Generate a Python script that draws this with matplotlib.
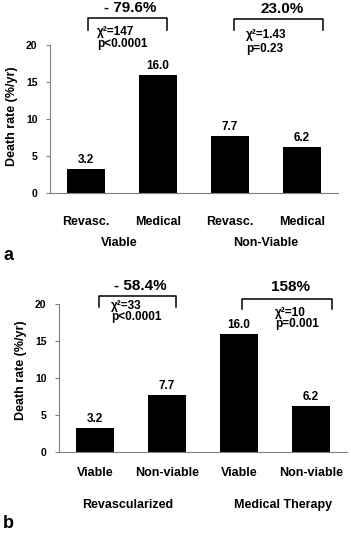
import matplotlib
matplotlib.use("Agg")
import matplotlib.pyplot as plt
from matplotlib.transforms import blended_transform_factory

plt.rcParams["font.family"] = ["Liberation Sans", "DejaVu Sans"]
plt.rcParams["font.weight"] = "bold"

# panel a
a_labels = ["Revasc.", "Medical", "Revasc.", "Medical"]
a_groups = ["Viable", "Non-Viable"]
a_values = [3.2, 16.0, 7.7, 6.2]
a_changes = ["- 79.6%", "23.0%"]
a_stats = [("χ²=147", "p<0.0001"), ("χ²=1.43", "p=0.23")]

# panel b
b_labels = ["Viable", "Non-viable", "Viable", "Non-viable"]
b_groups = ["Revascularized", "Medical Therapy"]
b_values = [3.2, 7.7, 16.0, 6.2]
b_changes = ["- 58.4%", "158%"]
b_stats = [("χ²=33", "p<0.0001"), ("χ²=10", "p=0.001")]

W, H = 351, 533
fig = plt.figure(figsize=(W / 100, H / 100), dpi=100)


def make_axes(left, right, top, bottom):
    return fig.add_axes([left / W, 1 - bottom / H, (right - left) / W, (bottom - top) / H])


def draw_panel(ax, labels, groups, values, changes, stats, layout):
    xs = [i + 0.5 for i in range(len(values))]
    ax.bar(xs, values, width=0.53, color="black")
    ax.set_xlim(0, 4)
    ax.set_ylim(0, 20)
    ax.set_yticks([0, 5, 10, 15, 20])
    for s in ["top", "right"]:
        ax.spines[s].set_visible(False)
    for s in ["left", "bottom"]:
        ax.spines[s].set_color("#808080")
    ax.tick_params(axis="y", length=3, color="#808080", labelsize=7.5, pad=6)
    ax.set_xticks([])
    ax.set_ylabel("Death rate (%/yr)", fontsize=9, fontweight="bold")
    ax.yaxis.set_label_coords(-0.11, layout["ylabel_y"])

    for x, v in zip(xs, values):
        ax.annotate(f"{v:.1f}", (x, v), xytext=(0, 6.5), textcoords="offset points",
                    ha="center", va="center", fontsize=8.5, fontweight="bold")

    tr = blended_transform_factory(ax.transData, ax.transAxes)
    for x, lab in zip(xs, labels):
        ax.text(x, layout["label_y"], lab, transform=tr, ha="center", va="center",
                fontsize=9, fontweight="bold")
    for gx, g in zip(layout["group_x"], groups):
        ax.text(gx, layout["group_y"], g, transform=tr, ha="center", va="center",
                fontsize=9, fontweight="bold")

    for (x0, x1, ytop, ybot), (hx, hy), txt, (sx, sy1, sy2), (c, p) in zip(
            layout["brackets"], layout["heads"], changes, layout["stats"], stats):
        ax.plot([x0, x0, x1, x1], [ybot, ytop, ytop, ybot], color="black", lw=1.1,
                clip_on=False)
        ax.text(hx, hy, txt, ha="center", va="center", fontsize=11,
                fontweight="bold", clip_on=False)
        ax.text(sx, sy1, c, ha="left", va="center", fontsize=8.5, fontweight="bold")
        ax.text(sx, sy2, p, ha="left", va="center", fontsize=8.5, fontweight="bold")


ax_a = make_axes(50, 338, 45, 193)
draw_panel(ax_a, a_labels, a_groups, a_values, a_changes, a_stats, {
    "ylabel_y": 0.52,
    "label_y": -29 / 148, "group_y": -50 / 148, "group_x": [0.96, 3.0],
    "brackets": [(0.53, 1.62, 23.6, 22.0), (2.56, 3.79, 23.5, 22.0)],
    "heads": [(1.11, 25.0), (3.22, 24.9)],
    "stats": [(0.65, 21.7, 20.1), (2.72, 21.4, 19.5)],
})

ax_b = make_axes(59, 347, 304, 452)
draw_panel(ax_b, b_labels, b_groups, b_values, b_changes, b_stats, {
    "ylabel_y": 0.55,
    "label_y": -21 / 148, "group_y": -53 / 148, "group_x": [0.96, 3.11],
    "brackets": [(0.56, 1.63, 21.1, 19.6), (2.54, 3.79, 20.7, 19.3)],
    "heads": [(1.125, 22.4), (3.21, 22.3)],
    "stats": [(0.72, 19.75, 18.3), (3.0, 18.8, 17.3)],
})

fig.text(3 / W, 1 - 256 / H, "a", ha="left", va="center", fontsize=13, fontweight="bold")
fig.text(3 / W, 1 - 524 / H, "b", ha="left", va="center", fontsize=13, fontweight="bold")

fig.savefig("out.png", dpi=100)
